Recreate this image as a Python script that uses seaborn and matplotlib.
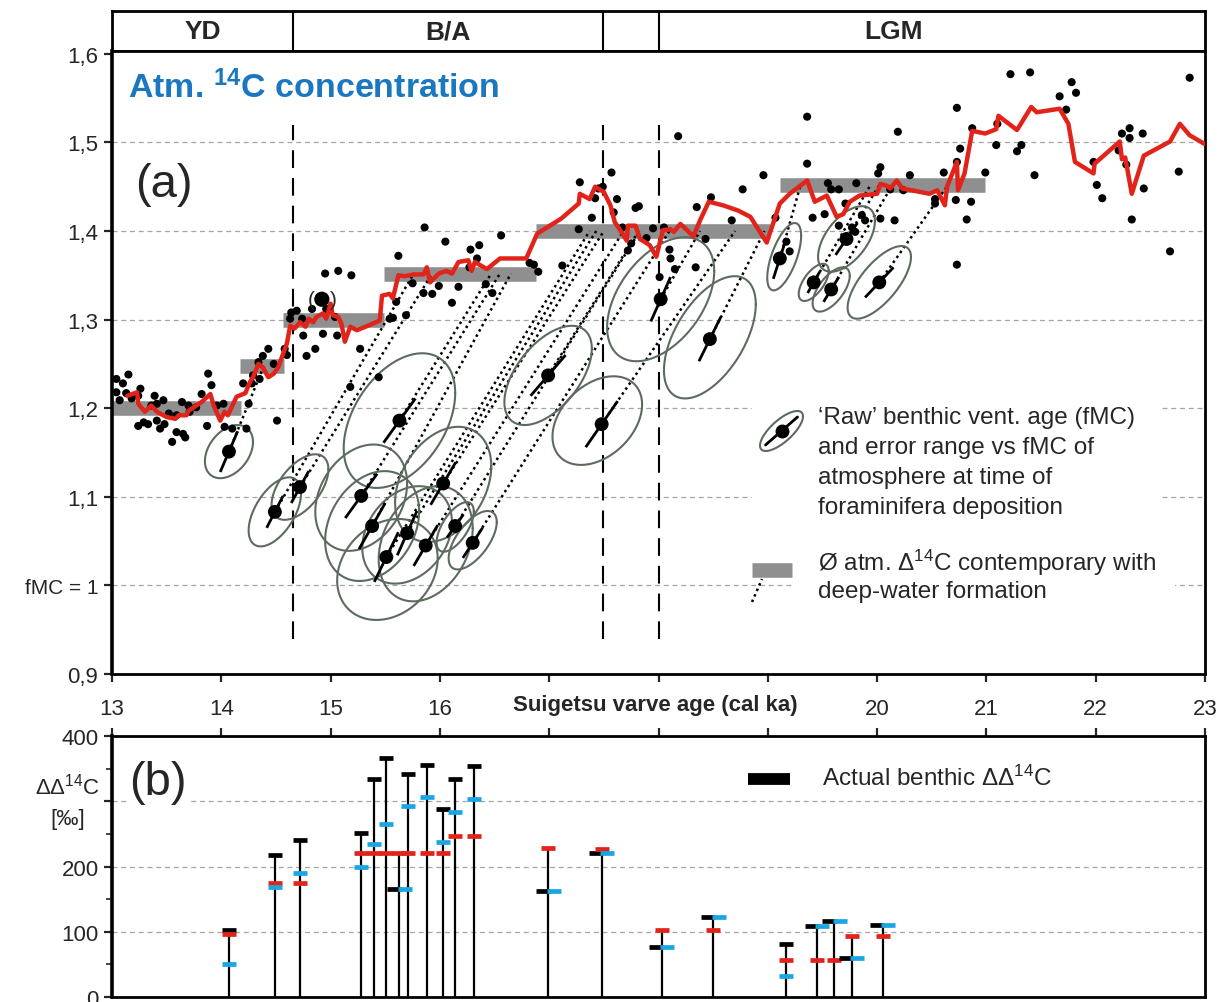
import numpy as np
import matplotlib
matplotlib.use("Agg")
import matplotlib.pyplot as plt
import matplotlib.patches as mpatches
import seaborn as sns

# ---------------- data ----------------
# atmospheric fMC record (red curve)
atm_x = [13.14, 13.23, 13.24, 13.30, 13.36, 13.41, 13.50, 13.58, 13.61, 13.68, 13.70, 13.82, 13.90, 13.93,
         13.99, 14.03, 14.06, 14.11, 14.14, 14.22, 14.26, 14.29, 14.34, 14.38, 14.43, 14.48, 14.52, 14.55,
         14.60, 14.63, 14.67, 14.72, 14.77, 14.80, 14.84, 14.87, 14.93, 14.96, 15.00, 15.02, 15.07, 15.10,
         15.13, 15.18, 15.24, 15.34, 15.45, 15.47, 15.54, 15.57, 15.62, 15.68, 15.76, 15.85, 15.88, 15.91,
         15.99, 16.06, 16.11, 16.17, 16.26, 16.29, 16.32, 16.43, 16.55, 16.79, 16.89, 16.98, 17.11, 17.27,
         17.28, 17.37, 17.42, 17.50, 17.56, 17.60, 17.65, 17.71, 17.72, 17.79, 17.83, 17.92, 17.98, 18.04,
         18.11, 18.14, 18.20, 18.32, 18.38, 18.46, 18.59, 18.73, 18.84, 18.99, 19.11, 19.20, 19.36, 19.43,
         19.54, 19.63, 19.69, 19.75, 19.84, 20.00, 20.03, 20.09, 20.12, 20.18, 20.23, 20.48, 20.55, 20.62,
         20.64, 20.73, 20.74, 20.80, 20.87, 20.99, 21.09, 21.11, 21.28, 21.41, 21.46, 21.67, 21.75, 21.81,
         21.98, 21.99, 22.22, 22.24, 22.27, 22.33, 22.44, 22.68, 22.77, 22.86, 23.00]
atm_y = [1.214, 1.218, 1.205, 1.196, 1.203, 1.196, 1.190, 1.188, 1.192, 1.192, 1.197, 1.207, 1.216, 1.203,
         1.186, 1.196, 1.192, 1.205, 1.213, 1.217, 1.229, 1.235, 1.250, 1.246, 1.235, 1.239, 1.246, 1.256,
         1.273, 1.293, 1.290, 1.297, 1.292, 1.301, 1.297, 1.303, 1.307, 1.301, 1.318, 1.305, 1.303, 1.295,
         1.275, 1.292, 1.288, 1.293, 1.299, 1.327, 1.329, 1.324, 1.350, 1.349, 1.351, 1.351, 1.359, 1.342,
         1.352, 1.355, 1.352, 1.365, 1.367, 1.355, 1.365, 1.357, 1.369, 1.369, 1.397, 1.404, 1.414, 1.431,
         1.442, 1.436, 1.450, 1.444, 1.429, 1.410, 1.401, 1.389, 1.406, 1.406, 1.391, 1.384, 1.371, 1.401,
         1.402, 1.399, 1.408, 1.394, 1.412, 1.433, 1.429, 1.423, 1.416, 1.387, 1.431, 1.442, 1.457, 1.433,
         1.440, 1.416, 1.419, 1.433, 1.440, 1.442, 1.453, 1.451, 1.448, 1.457, 1.448, 1.442, 1.446, 1.429,
         1.450, 1.478, 1.446, 1.465, 1.513, 1.510, 1.515, 1.530, 1.514, 1.540, 1.534, 1.538, 1.521, 1.478,
         1.465, 1.476, 1.501, 1.481, 1.483, 1.442, 1.485, 1.501, 1.521, 1.508, 1.498]

# raw atmospheric data points (black dots)
dot_x = [13.04, 13.10, 13.15, 13.04, 13.07, 13.13, 13.18, 13.26, 13.24, 13.24, 13.29, 13.33, 13.36, 13.39,
         13.41, 13.41, 13.44, 13.47, 13.48, 13.52, 13.55, 13.59, 13.59, 13.64, 13.65, 13.67, 13.70, 13.71,
         13.77, 13.82, 13.87, 13.88, 13.91, 13.96, 14.02, 14.03, 14.10, 14.20, 14.23, 14.25, 14.28, 14.29,
         14.34, 14.35, 14.38, 14.43, 14.48, 14.51, 14.58, 14.60, 14.63, 14.64, 14.69, 14.74, 14.75, 14.78,
         14.83, 14.86, 14.93, 14.95, 14.96, 15.04, 15.06, 15.07, 15.19, 15.18, 15.27, 15.44, 15.54, 15.60,
         15.62, 15.86, 16.05, 16.28, 16.36, 16.34, 16.56, 16.27, 15.75, 15.85, 15.93, 15.99, 16.17, 16.11,
         16.42, 16.48, 15.69, 15.57, 16.82, 16.86, 16.90, 17.12, 17.28, 17.39, 17.27, 17.42, 17.45, 17.49,
         17.57, 17.62, 17.59, 17.67, 17.79, 17.82, 17.75, 17.72, 17.89, 17.95, 18.05, 18.10, 18.11, 18.15,
         18.35, 18.34, 18.01, 18.48, 18.43, 18.67, 18.77, 18.96, 19.07, 19.36, 19.41, 19.52, 19.55, 19.58,
         19.65, 19.81, 19.71, 19.77, 19.86, 19.89, 19.65, 19.80, 20.03, 20.01, 20.12, 20.03, 20.16, 20.30,
         20.24, 20.53, 20.53, 20.61, 20.72, 20.82, 20.86, 20.73, 20.76, 20.99, 21.09, 19.17, 19.20, 18.18,
         19.36, 20.19, 20.73, 20.73, 20.87, 21.10, 21.22, 21.40, 21.32, 21.28, 21.44, 21.67, 21.78, 21.82,
         21.73, 21.98, 22.01, 22.06, 22.24, 22.31, 22.31, 22.43, 22.21, 22.28, 22.44, 22.33, 22.68, 22.76,
         22.86]
dot_y = [1.233, 1.228, 1.238, 1.218, 1.209, 1.217, 1.211, 1.222, 1.214, 1.180, 1.184, 1.182, 1.203, 1.214,
         1.205, 1.186, 1.177, 1.209, 1.182, 1.194, 1.162, 1.192, 1.173, 1.207, 1.171, 1.167, 1.203, 1.196,
         1.201, 1.216, 1.180, 1.239, 1.226, 1.203, 1.205, 1.179, 1.177, 1.228, 1.177, 1.205, 1.228, 1.237,
         1.252, 1.233, 1.259, 1.267, 1.250, 1.186, 1.267, 1.260, 1.301, 1.308, 1.310, 1.301, 1.282, 1.259,
         1.312, 1.267, 1.284, 1.352, 1.312, 1.303, 1.282, 1.355, 1.350, 1.224, 1.267, 1.235, 1.301, 1.320,
         1.372, 1.404, 1.388, 1.379, 1.384, 1.369, 1.395, 1.359, 1.341, 1.330, 1.329, 1.338, 1.337, 1.319,
         1.340, 1.330, 1.305, 1.302, 1.364, 1.362, 1.354, 1.361, 1.455, 1.415, 1.402, 1.437, 1.448, 1.450,
         1.466, 1.436, 1.421, 1.404, 1.426, 1.428, 1.386, 1.378, 1.392, 1.403, 1.404, 1.379, 1.369, 1.357,
         1.427, 1.359, 1.348, 1.438, 1.391, 1.412, 1.447, 1.463, 1.415, 1.476, 1.415, 1.419, 1.454, 1.447,
         1.447, 1.454, 1.431, 1.404, 1.418, 1.412, 1.406, 1.399, 1.472, 1.465, 1.447, 1.414, 1.412, 1.463,
         1.446, 1.436, 1.431, 1.466, 1.435, 1.413, 1.433, 1.362, 1.493, 1.466, 1.497, 1.388, 1.377, 1.507,
         1.529, 1.512, 1.539, 1.478, 1.516, 1.521, 1.577, 1.579, 1.497, 1.490, 1.463, 1.552, 1.568, 1.556,
         1.537, 1.478, 1.452, 1.437, 1.510, 1.516, 1.505, 1.510, 1.491, 1.475, 1.448, 1.413, 1.377, 1.467,
         1.573]

# bracketed outlier point
paren_x = [14.92]
paren_y = [1.323]

# mean atmospheric level during deep-water formation (grey bars)
bar_x0 = [13.00, 14.17, 14.56, 15.49, 16.88, 19.11]
bar_x1 = [14.18, 14.57, 15.49, 16.88, 19.02, 20.99]
bar_y = [1.200, 1.248, 1.300, 1.352, 1.400, 1.452]

# benthic ventilation ages (ellipses)
ell_x = [14.07, 14.49, 14.72, 15.28, 15.38, 15.51, 15.63, 15.70, 15.87, 16.03, 16.14, 16.30,
         16.99, 17.48, 18.02, 18.47, 19.11, 19.42, 19.58, 19.72, 20.02]
ell_y = [1.151, 1.083, 1.111, 1.101, 1.067, 1.032, 1.186, 1.059, 1.045, 1.115, 1.067, 1.048,
         1.237, 1.182, 1.323, 1.278, 1.369, 1.342, 1.334, 1.391, 1.342]
ell_cx = [14.07, 14.49, 14.72, 15.28, 15.38, 15.52, 15.63, 15.70, 15.87, 16.03, 16.14, 16.30,
          16.99, 17.44, 18.02, 18.47, 19.15, 19.42, 19.58, 19.72, 20.02]
ell_cy = [1.151, 1.083, 1.111, 1.099, 1.067, 1.018, 1.186, 1.057, 1.047, 1.114, 1.066, 1.051,
          1.237, 1.186, 1.323, 1.280, 1.371, 1.342, 1.334, 1.391, 1.342]
ell_rx = [0.22, 0.24, 0.26, 0.42, 0.43, 0.46, 0.51, 0.41, 0.43, 0.44, 0.17, 0.22,
          0.40, 0.41, 0.49, 0.42, 0.155, 0.137, 0.17, 0.26, 0.29]
ell_ry = [0.030, 0.039, 0.037, 0.060, 0.062, 0.057, 0.076, 0.055, 0.065, 0.065, 0.028, 0.033,
          0.056, 0.050, 0.070, 0.069, 0.038, 0.021, 0.025, 0.037, 0.041]
ell_phi = [1.2, 1.0, 1.0, 1.3, 1.3, 1.35, 1.15, 1.3, 1.3, 1.25, 0.9, 0.9,
           1.0, 1.2, 1.1, 1.0, 0.9, 0.9, 0.9, 1.0, 0.8]
err_x = [0.08, 0.075, 0.08, 0.146, 0.12, 0.11, 0.146, 0.09, 0.11, 0.115, 0.075, 0.09,
         0.16, 0.146, 0.09, 0.10, 0.06, 0.055, 0.07, 0.10, 0.13]
err_y = [0.023, 0.018, 0.018, 0.025, 0.026, 0.028, 0.025, 0.025, 0.023, 0.024, 0.013, 0.017,
         0.023, 0.026, 0.025, 0.025, 0.023, 0.012, 0.014, 0.018, 0.017]
link_x = [14.39, 15.76, 15.93, 16.55, 16.65, 17.37, 16.47, 17.43, 17.68, 17.50, 17.83, 18.10,
          17.82, 18.70, 18.38, 18.97, 19.30, 19.94, 20.14, 20.02, 20.65]
link_y = [1.248, 1.352, 1.352, 1.352, 1.352, 1.400, 1.352, 1.400, 1.400, 1.400, 1.400, 1.400,
          1.400, 1.400, 1.400, 1.400, 1.452, 1.452, 1.452, 1.452, 1.452]

# climate periods
period_edges = [13.0, 14.66, 17.49, 18.0, 23.0]
period_names = ["YD", "B/A", "", "LGM"]
period_label_x = [13.83, 16.07, 17.75, 20.15]

# panel (b): delta-delta 14C
stem_x = [14.07, 14.49, 14.72, 15.28, 15.40, 15.51, 15.63, 15.71, 15.88, 16.03, 16.14, 16.31,
          16.99, 17.48, 18.03, 18.50, 19.17, 19.45, 19.61, 19.77, 20.05]
dd_black = [103, 217, 240, 251, 334, 367, 165, 342, 356, 288, 334, 354,
            163, 220, 76, 123, 81, 109, 116, 60, 110]
dd_red = [96, 175, 175, 220, 220, 220, 220, 220, 220, 220, 246, 246,
          228, 227, 102, 102, 57, 57, 57, 93, 93]
dd_blue = [50, 168, 190, 200, 234, 265, 165, 292, 306, 238, 283, 304,
           163, 220, 76, 123, 32, 109, 116, 60, 110]

# ---------------- style ----------------
sns.set_theme(style="white")
plt.rcParams['font.family'] = ['Liberation Sans', 'DejaVu Sans']
plt.rcParams['mathtext.fontset'] = 'custom'
plt.rcParams['mathtext.rm'] = 'Liberation Sans'
plt.rcParams['mathtext.it'] = 'Liberation Sans:italic'
plt.rcParams['mathtext.bf'] = 'Liberation Sans:bold'

RED = '#e2231a'
BLUE = '#19a6e3'
GREY_BAR = '#8f8f90'
ELL = '#5d6b5f'
GRID = '#a5a5a5'
TITLE_BLUE = '#1b78c0'

fig = plt.figure(figsize=(12.31, 10.03), dpi=100)
L = 112 / 1231
W = 1093 / 1231
ax_band = fig.add_axes([L, 1 - 52 / 1003, W, 40 / 1003])
ax = fig.add_axes([L, 1 - 675 / 1003, W, 623 / 1003])
axb = fig.add_axes([L, 1 - 998 / 1003, W, 261 / 1003])

# ---------------- band ----------------
ax_band.set_xlim(13, 23)
ax_band.set_ylim(0, 1)
ax_band.set_xticks([])
ax_band.set_yticks([])
for s in ax_band.spines.values():
    s.set_linewidth(2.0)
    s.set_color('black')
ax_band.vlines(period_edges[1:-1], 0, 1, color='black', lw=1.5)
for name, xl in zip(period_names, period_label_x):
    ax_band.text(xl, 0.5, name, ha='center', va='center', fontsize=19, fontweight='bold')

# ---------------- panel (a) ----------------
ax.set_xlim(13, 23)
ax.set_ylim(0.9, 0.9 + 623 / 886)
for v in [1.0, 1.1, 1.2, 1.3, 1.4, 1.5]:
    ax.axhline(v, color=GRID, lw=0.9, ls=(0, (4, 3)), zorder=0.5)

ax.vlines(period_edges[1:4], 0.94, 1.52, color='black', lw=1.5,
          linestyles=[(0, (8.5, 4.8))], zorder=1)

ax.hlines(bar_y, bar_x0, bar_x1, color=GREY_BAR, lw=10.5, zorder=2)

for x, y, lx, ly in zip(ell_x, ell_y, link_x, link_y):
    ax.plot([x, lx], [y, ly], color='black', lw=1.8, ls=(0, (1.0, 1.4)), zorder=3)

t = np.linspace(0, 2 * np.pi, 200)
for cx, cy, rx, ry, ph in zip(ell_cx, ell_cy, ell_rx, ell_ry, ell_phi):
    ax.plot(cx + rx * np.cos(t), cy + ry * np.cos(t - ph), color=ELL, lw=1.5, zorder=3.5)

sns.scatterplot(x=dot_x, y=dot_y, ax=ax, color='black', s=34, edgecolor='none',
                zorder=4, legend=False)
sns.lineplot(x=atm_x, y=atm_y, ax=ax, sort=False, estimator=None, color=RED, lw=3.2,
             zorder=5, legend=False)

for x, y, ex, ey in zip(ell_x, ell_y, err_x, err_y):
    ax.plot([x - ex, x + ex], [y - ey, y + ey], color='black', lw=2.0, zorder=6,
            solid_capstyle='butt')
sns.scatterplot(x=ell_x, y=ell_y, ax=ax, color='black', s=100, edgecolor='none',
                zorder=7, legend=False)

# bracketed point
sns.scatterplot(x=paren_x, y=paren_y, ax=ax, color='black', s=120, edgecolor='none',
                zorder=7, legend=False)
ax.text(paren_x[0] - 0.095, paren_y[0], '(', ha='center', va='center', fontsize=15, zorder=7)
ax.text(paren_x[0] + 0.105, paren_y[0], ')', ha='center', va='center', fontsize=15, zorder=7)

ax.text(13.146, 1.563, r'Atm. $^{\mathbf{14}}$C concentration', color=TITLE_BLUE,
        fontsize=24.5, fontweight='bold', ha='left', va='center')
ax.text(13.21, 1.453, '(a)', fontsize=34, ha='left', va='center')

# ticks / spines of panel (a)
ax.set_yticks([0.9, 1.0, 1.1, 1.2, 1.3, 1.4, 1.5, 1.6])
ax.set_yticklabels(['0,9', 'fMC = 1', '1,1', '1,2', '1,3', '1,4', '1,5', '1,6'])
ax.set_xticks(range(13, 24))
ax.tick_params(axis='y', direction='out', length=6, width=1.6, labelsize=16, pad=4, left=True)
ax.tick_params(axis='x', direction='out', length=6, width=1.6, labelbottom=False, bottom=True)
ax.get_yticklabels()[1].set_fontsize(15)
for s in ax.spines.values():
    s.set_linewidth(2.0)
    s.set_color('black')
ax.spines['left'].set_linewidth(2.6)
ax.set_xlabel('')
ax.set_ylabel('')

# legend of panel (a), placed in axes-fraction units
def fx(px):
    return (px - 112) / 1093

def fy(py):
    return (675 - py) / 623

ax.add_patch(mpatches.Rectangle((fx(752), fy(525)), fx(1160) - fx(752), fy(400) - fy(525),
                                transform=ax.transAxes, facecolor='white', edgecolor='none', zorder=1.5))
ax.add_patch(mpatches.Rectangle((fx(795), fy(603)), fx(1175) - fx(795), fy(550) - fy(603),
                                transform=ax.transAxes, facecolor='white', edgecolor='none', zorder=1.5))
icx, icy = fx(781.5), fy(432)
irx, iry = 21.5 / 1093, 20 / 623
ax.plot(icx + irx * np.cos(t), icy + iry * np.cos(t - 0.75), transform=ax.transAxes,
        color=ELL, lw=1.5, zorder=6)
ax.plot([icx - 16 / 1093, icx + 16 / 1093], [icy - 14 / 623, icy + 14 / 623],
        transform=ax.transAxes, color='black', lw=2.0, zorder=6)
ax.plot([icx], [icy], marker='o', ms=9, color='black', transform=ax.transAxes, zorder=7)
leg_lines = ['\u2018Raw\u2019 benthic vent. age (fMC)', 'and error range vs fMC of',
             'atmosphere at time of', 'foraminifera deposition']
for i, s in enumerate(leg_lines):
    ax.text(fx(818), fy(418 + 30 * i), s, transform=ax.transAxes, fontsize=17.5,
            ha='left', va='center', zorder=6)
ax.plot([fx(752), fx(792)], [fy(571), fy(571)], transform=ax.transAxes,
        color=GREY_BAR, lw=10.5, solid_capstyle='butt', zorder=6)
ax.plot([fx(752), fx(762)], [fy(603), fy(580)], transform=ax.transAxes,
        color='black', lw=1.8, ls=(0, (1.0, 1.4)), zorder=6)
ax.text(fx(818), fy(563), '\u00d8 atm. \u0394$^{14}$C contemporary with', transform=ax.transAxes,
        fontsize=17.5, ha='left', va='center', zorder=6)
ax.text(fx(818), fy(592), 'deep-water formation', transform=ax.transAxes,
        fontsize=17.5, ha='left', va='center', zorder=6)

# ---------------- panel (b) ----------------
axb.set_xlim(13, 23)
axb.set_ylim(0, 400)
for v in [100, 200, 300]:
    axb.axhline(v, color=GRID, lw=0.9, ls=(0, (4, 3)), zorder=0.5)

tops = [max(a, b, c) for a, b, c in zip(dd_black, dd_red, dd_blue)]
axb.vlines(stem_x, 0, tops, color='black', lw=1.6, zorder=2)
for x, b, r, bl in zip(stem_x, dd_black, dd_red, dd_blue):
    off = 0.05 if abs(b - bl) < 3 else 0.0
    axb.plot([x - off], [b], marker='_', ms=10, mew=3.4, color='black', ls='none', zorder=4)
    axb.plot([x], [r], marker='_', ms=10, mew=3.4, color=RED, ls='none', zorder=4)
    axb.plot([x + off], [bl], marker='_', ms=10, mew=3.4, color=BLUE, ls='none', zorder=4)

axb.text(13.16, 329, '(b)', fontsize=34, ha='left', va='center', zorder=5,
         bbox=dict(facecolor='white', edgecolor='none', pad=1))

axb.xaxis.tick_top()
axb.set_xticks(range(13, 24))
axb.set_xticklabels(['13', '14', '15', '16', '', '', '', '20', '21', '22', '23'])
axb.tick_params(axis='x', direction='out', length=6, width=1.6, labelsize=16, pad=6,
                top=True, bottom=False, labeltop=True, labelbottom=False)
axb.set_yticks([0, 100, 200, 300, 400])
axb.set_yticklabels(['0', '100', '200', '', '400'])
axb.set_yticks([50, 150, 250, 350], minor=True)
axb.tick_params(axis='y', which='major', direction='out', length=6, width=1.6, labelsize=16, left=True)
axb.tick_params(axis='y', which='minor', direction='out', length=4, width=1.2, left=True)
for s in axb.spines.values():
    s.set_linewidth(2.0)
    s.set_color('black')
axb.spines['left'].set_linewidth(2.6)
axb.set_xlabel('')
axb.set_ylabel('')

# legend of panel (b)
axb.plot([(748 - 112) / 1093, (790 - 112) / 1093], [(998 - 780) / 261] * 2,
         transform=axb.transAxes, color='black', lw=8.5, solid_capstyle='butt')
axb.text((822 - 112) / 1093, (998 - 778) / 261, 'Actual benthic \u0394\u0394$^{14}$C',
         transform=axb.transAxes, fontsize=17.5, ha='left', va='center')

fig.text(68 / 1231, 1 - 787 / 1003, '\u0394\u0394$^{14}$C', ha='center', va='center', fontsize=16)
fig.text(68 / 1231, 1 - 820 / 1003, '[\u2030]', ha='center', va='center', fontsize=16)
fig.text(655 / 1231, 1 - 706 / 1003, 'Suigetsu varve age (cal ka)', ha='center', va='center',
         fontsize=16, fontweight='bold')

fig.savefig('out.png', dpi=100)
